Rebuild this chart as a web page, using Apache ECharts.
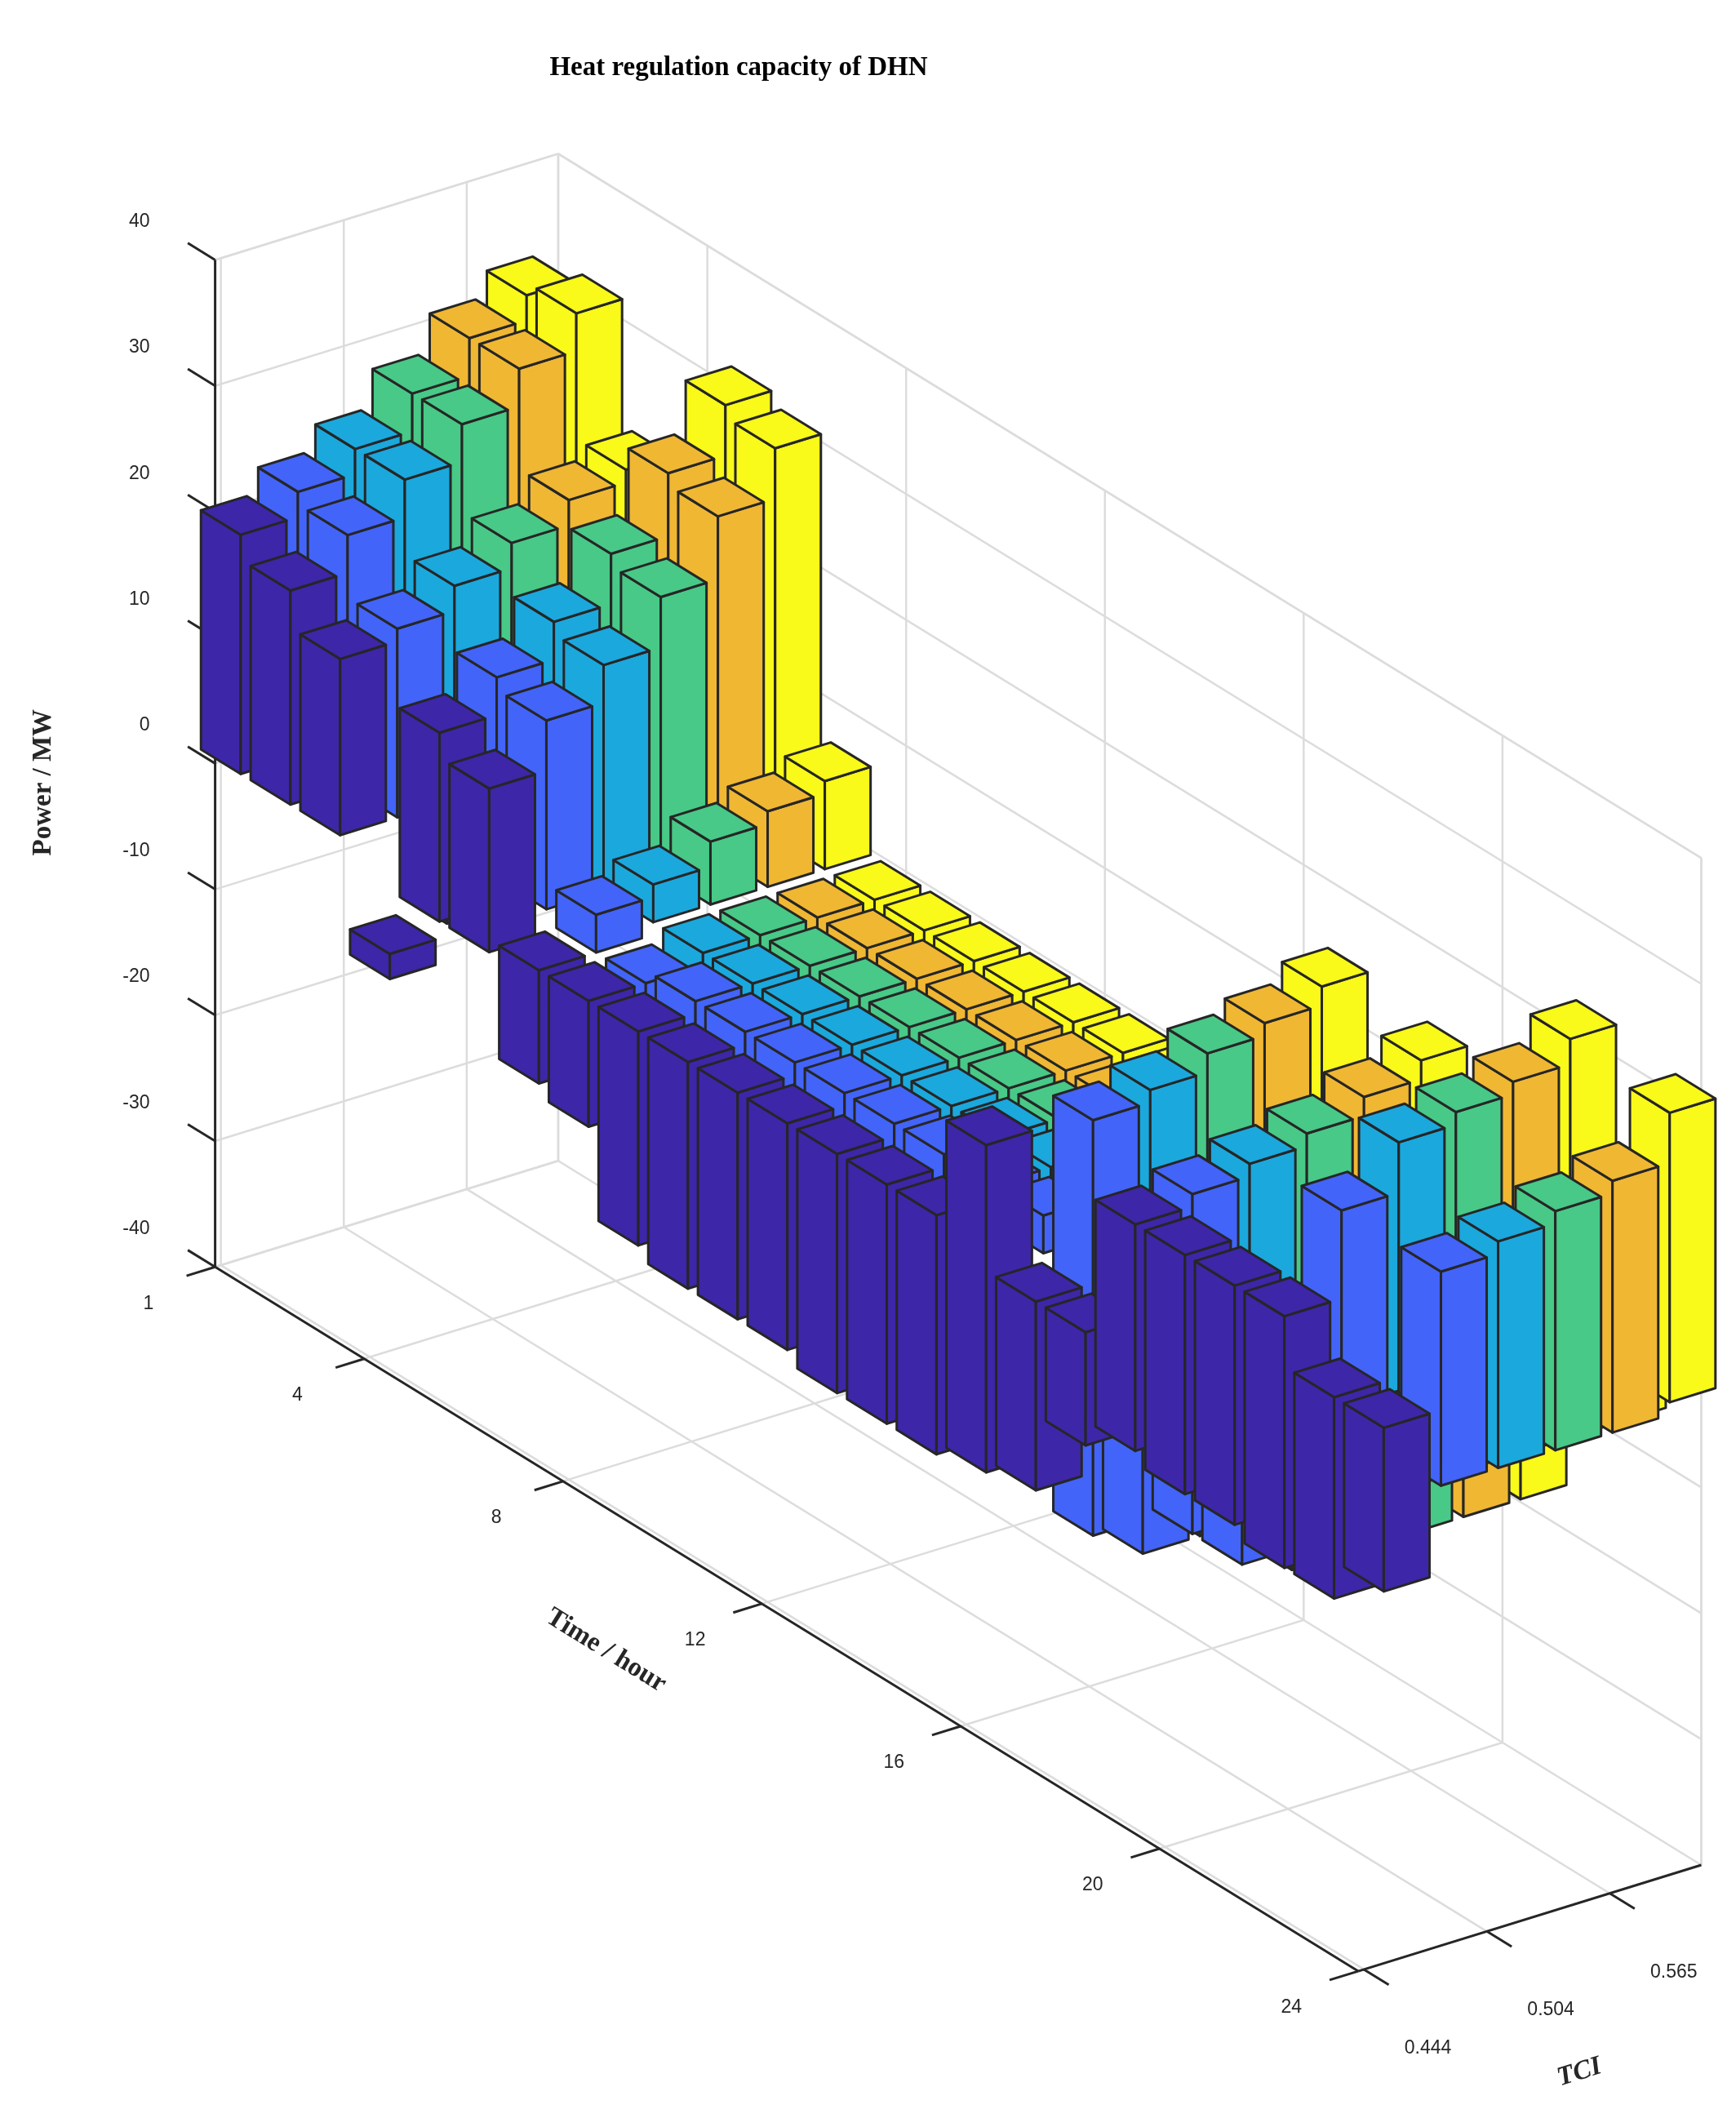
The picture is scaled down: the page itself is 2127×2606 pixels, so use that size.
<!DOCTYPE html>
<html><head><meta charset="utf-8">
<script src="https://cdn.jsdelivr.net/npm/echarts@6/dist/echarts.min.js"></script>
<style>html,body{margin:0;padding:0;background:#fff}#c{width:2127px;height:2606px}</style>
</head><body><div id="c"></div>
<script>
const HOURS = Array.from({length:24},(_,i)=>i+1);
const TCI_INDEX = [1,2,3,4,5,6];
const TIME_TICKS = [1,4,8,12,16,20,24];
const Z_TICKS = [-40,-30,-20,-10,0,10,20,30,40];
const TCI_TICK_LABELS = ['0.444','0.504','0.565'];
const TCI_TICK_POS = [0.6,2.75,4.9];
const COLORS = ['#3e26a8','#4364f8','#1ba8dd','#48c987','#f0b733','#f9f91a'];
// upper / lower regulation bound per TCI (hours 1..24)
const HI1 = [19,17,14,-7,13,11,-1,-1,-1,-1,-1,-1,-1,-1,-1,7,-3,-3,8,8,8,8,4,4];
const LO1 = [0,0,0,-9,-2,-2,-10,-11,-18,-19,-19,-19,-20,-20,-20,-19,-18,-12,-10,-11,-11,-12,-12,-9];
const HI2 = [21,20,15,-4,16,15,2,-1,0,0,0,0,0,0,0,0,10,0,9,0,0,15,0,15];
const LO2 = [0,0,0,-6,0,0,-1,-3,-3,-3,-3,-3,-3,-3,-3,-3,-23,-22,-18,-18,-16,-6,-5,-2];
const HI3 = [23,23,17,5,19,18,3,0,0,0,0,0,0,0,0,0,11,0,10,0,0,19,0,16];
const LO3 = [0,0,0,0,0,0,0,-3,-3,-3,-3,-3,-3,-3,-3,-3,-23,-22,-18,-18,-16,-6,-5,-2];
const HI4 = [26,26,19,12,23,22,5,0,0,0,0,0,0,0,0,0,12.5,0,11,0,0,20,0,17];
const LO4 = [0,0,0,0,0,0,0,-3,-3,-3,-3,-3,-3,-3,-3,-3,-23,-22,-18,-18,-16,-6,-5,-2];
const HI5 = [29,29,21,16,28,27,6,0,0,0,0,0,0,0,0,0,13.5,0,12.5,0,0,21,0,18];
const LO5 = [0,0,0,0,0,0,0,-3,-3,-3,-3,-3,-3,-3,-3,-3,-23,-22,-18,-18,-16,-6,-5,-2];
const HI6 = [31,32,22,20,32,31,7,0,0,0,0,0,0,0,0,0,15,0,14,0,0,23,0,22];
const LO6 = [0,0,0,0,0,0,0,-3,-3,-3,-3,-3,-3,-3,-3,-3,-23,-22,-18,-18,-16,-6,-5,-1];
const HI = [HI1,HI2,HI3,HI4,HI5,HI6], LO = [LO1,LO2,LO3,LO4,LO5,LO6];

const chart = echarts.init(document.getElementById('c'));
function proj(t,c,z){
  return [158+(t-1)*36.5+(c-0.5)*42, 561+(t-1)*22.5-(c-0.5)*13-z*9.25];
}
const bars=[];
HOURS.forEach((h,ti)=>{ for(let ci=5;ci>=0;ci--){ bars.push([h,TCI_INDEX[ci],LO[ci][ti],HI[ci][ti],ci]); }});
const TMIN=1,TMAX=24,CMIN=0.5,CMAX=6.5,ZMIN=-40,ZMAX=40;
const grid=[];
Z_TICKS.forEach(z=>{grid.push([TMIN,CMIN,z,TMIN,CMAX,z]);grid.push([TMIN,CMAX,z,TMAX,CMAX,z]);});
TCI_TICK_POS.forEach(c=>{grid.push([TMIN,c,ZMIN,TMIN,c,ZMAX]);grid.push([TMIN,c,ZMIN,TMAX,c,ZMIN]);});
TIME_TICKS.forEach(t=>{grid.push([t,CMAX,ZMIN,t,CMAX,ZMAX]);grid.push([t,CMIN,ZMIN,t,CMAX,ZMIN]);});
grid.push([TMIN,CMAX,ZMIN,TMIN,CMAX,ZMAX]);grid.push([TMAX,CMAX,ZMIN,TMAX,CMAX,ZMAX]);
grid.push([TMIN,CMIN,ZMAX,TMIN,CMAX,ZMAX]);grid.push([TMIN,CMAX,ZMAX,TMAX,CMAX,ZMAX]);
const axes=[[TMIN,CMIN,ZMIN,TMIN,CMIN,ZMAX],[TMIN,CMIN,ZMIN,TMAX,CMIN,ZMIN],[TMAX,CMIN,ZMIN,TMAX,CMAX,ZMIN]];
Z_TICKS.forEach(z=>axes.push([TMIN,CMIN,z,TMIN-0.55,CMIN,z]));
TIME_TICKS.forEach(t=>axes.push([t,CMIN,ZMIN,t,CMIN-0.5,ZMIN]));
TCI_TICK_POS.forEach(c=>axes.push([TMAX,c,ZMIN,TMAX+0.5,c,ZMIN]));
const labels=[];
Z_TICKS.forEach(z=>{const p=proj(TMIN,CMIN,z);labels.push([p[0]-48,p[1]-28,String(z),'right',0,'n']);});
TIME_TICKS.forEach(t=>{const p=proj(t,CMIN,ZMIN);labels.push([p[0]-49,p[1]+27,String(t),'center',0,'n']);});
TCI_TICK_POS.forEach((c,i)=>{const p=proj(TMAX,c,ZMIN);labels.push([p[0]+47,p[1]+58,TCI_TICK_LABELS[i],'center',0,'n']);});
labels.push([32,575,'Power / MW','center',Math.PI/2,'b']);
labels.push([445,1213,'Time / hour','center',-Math.atan(22.5/36.5),'b']);
labels.push([1160,1523,'TCI','center',Math.atan(13/42),'i']);

function seg(params,api){
  const a=api.coord(proj(api.value(0),api.value(1),api.value(2)));
  const b=api.coord(proj(api.value(3),api.value(4),api.value(5)));
  return {a,b};
}
const W=0.4;
chart.setOption({
  animation:false,
  title:{text:'Heat regulation capacity of DHN',left:900,top:62,textAlign:'center',
    textStyle:{fontFamily:'Liberation Serif',fontWeight:'bold',fontSize:33,color:'#000'}},
  grid:{left:0,right:0,top:0,bottom:0},
  xAxis:{type:'value',min:0,max:1275,show:false},
  yAxis:{type:'value',min:0,max:1563,inverse:true,show:false},
  series:[
   {type:'custom',data:grid,silent:true,z:1,renderItem:(p,api)=>{const s=seg(p,api);
     return {type:'line',shape:{x1:s.a[0],y1:s.a[1],x2:s.b[0],y2:s.b[1]},style:{stroke:'#dcdcdc',lineWidth:2.5}};}},
   {type:'custom',data:axes,silent:true,z:2,renderItem:(p,api)=>{const s=seg(p,api);
     return {type:'line',shape:{x1:s.a[0],y1:s.a[1],x2:s.b[0],y2:s.b[1]},style:{stroke:'#262626',lineWidth:3}};}},
   {type:'custom',data:bars,silent:true,z:3,renderItem:(p,api)=>{
     const t=api.value(0),c=api.value(1),lo=api.value(2),hi=api.value(3),ci=api.value(4);
     const P=(tt,cc,zz)=>api.coord(proj(tt,cc,zz));
     const st={fill:COLORS[ci],stroke:'#262626',lineWidth:3,lineJoin:'round'};
     const top=[P(t-W,c-W,hi),P(t+W,c-W,hi),P(t+W,c+W,hi),P(t-W,c+W,hi)];
     const front=[P(t+W,c-W,lo),P(t+W,c+W,lo),P(t+W,c+W,hi),P(t+W,c-W,hi)];
     const left=[P(t-W,c-W,lo),P(t+W,c-W,lo),P(t+W,c-W,hi),P(t-W,c-W,hi)];
     return {type:'group',children:[
       {type:'polygon',shape:{points:left},style:st},
       {type:'polygon',shape:{points:front},style:st},
       {type:'polygon',shape:{points:top},style:st}]};
   }},
   {type:'custom',data:labels,silent:true,z:4,renderItem:(p,api)=>{
     const d=labels[p.dataIndex];
     const pt=api.coord([d[0],d[1]]);
     const b=d[5]!=='n';
     return {type:'text',x:pt[0],y:pt[1],rotation:d[4],style:{text:d[2],align:d[3],verticalAlign:'middle',
       fontFamily:b?'Liberation Serif':'Liberation Sans',fontWeight:b?'bold':'normal',fontStyle:d[5]==='i'?'italic':'normal',
       fontSize:b?33:23,fill:'#262626'}};
   }}
  ]
});
</script></body></html>
